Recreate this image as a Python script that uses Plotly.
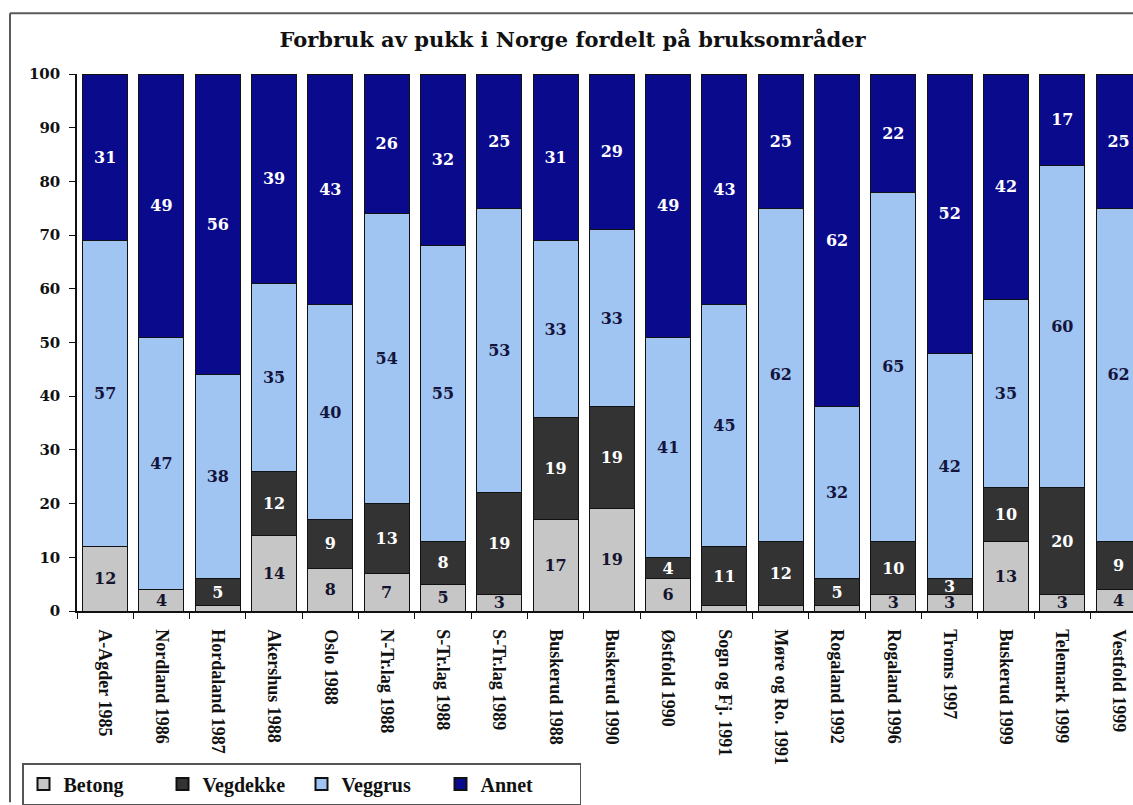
import plotly.graph_objects as go

# Regions / survey years
categories = [
    "A-Agder 1985", "Nordland 1986", "Hordaland 1987", "Akershus 1988",
    "Oslo 1988", "N-Tr.lag 1988", "S-Tr.lag 1988", "S-Tr.lag 1989",
    "Buskerud 1988", "Buskerud 1990", "Østfold 1990", "Sogn og Fj. 1991",
    "Møre og Ro. 1991", "Rogaland 1992", "Rogaland 1996", "Troms 1997",
    "Buskerud 1999", "Telemark 1999", "Vestfold 1999",
]

# Share of crushed stone use (%) per application
betong   = [12, 4, 1, 14, 8, 7, 5, 3, 17, 19, 6, 1, 1, 1, 3, 3, 13, 3, 4]
vegdekke = [0, 0, 5, 12, 9, 13, 8, 19, 19, 19, 4, 11, 12, 5, 10, 3, 10, 20, 9]
veggrus  = [57, 47, 38, 35, 40, 54, 55, 53, 33, 33, 41, 45, 62, 32, 65, 42, 35, 60, 62]
annet    = [31, 49, 56, 39, 43, 26, 32, 25, 31, 29, 49, 43, 25, 62, 22, 52, 42, 17, 25]

# Segments of 0 or 1 % carry no value label
def labels(values):
    return [str(v) if v > 1 else "" for v in values]

series = [
    ("Betong", betong, "#c6c6c6", "#14142e"),
    ("Vegdekke", vegdekke, "#333333", "white"),
    ("Veggrus", veggrus, "#a0c5f2", "#14143c"),
    ("Annet", annet, "#0a0a8c", "white"),
]

W, H = 1133, 805
L, T, B = 77, 74, 192          # plot area: x 77..1133, y 74..613
PW, PH = W - L, H - T - B

def px(x):
    return (x - L) / PW

def py(y):
    return (H - B - y) / PH

fig = go.Figure()
for name, vals, color, tcolor in series:
    fig.add_trace(go.Bar(
        name=name,
        x=categories,
        y=vals,
        text=labels(vals),
        textposition="inside",
        insidetextanchor="middle",
        textangle=0,
        textfont=dict(family="DejaVu Serif", size=16, color=tcolor, weight="bold"),
        marker=dict(color=color, line=dict(color="#111111", width=1)),
        hoverinfo="x+y+name",
    ))

# Chart frame (top and left edges)
frame = dict(color="#5a5a5a", width=2)
fig.add_shape(type="line", xref="paper", yref="paper",
              x0=px(10), x1=px(W), y0=py(13), y1=py(13), line=frame)
fig.add_shape(type="line", xref="paper", yref="paper",
              x0=px(10), x1=px(10), y0=py(13), y1=py(H), line=frame)

fig.update_layout(
    width=W, height=H,
    margin=dict(l=L, r=0, t=T, b=B, pad=0),
    barmode="stack",
    bargap=0.2,
    plot_bgcolor="white",
    paper_bgcolor="white",
    uniformtext=dict(minsize=16, mode="show"),
    title=dict(
        text="Forbruk av pukk i Norge fordelt på bruksområder",
        font=dict(family="DejaVu Serif", size=21, color="#111111", weight="bold"),
        x=572.5 / W, xref="container", xanchor="center",
        y=1 - 40 / H, yref="container", yanchor="middle",
    ),
    showlegend=True,
    legend=dict(
        orientation="h",
        x=px(22), xanchor="left",
        y=py(766), yanchor="top",
        bgcolor="white",
        bordercolor="#555555",
        borderwidth=1.5,
        font=dict(family="Liberation Serif", size=20, color="#111111", weight="bold"),
        entrywidth=94,
        entrywidthmode="pixels",
        itemsizing="constant",
        traceorder="normal",
    ),
    xaxis=dict(
        type="category",
        range=[-0.5, -0.5 + PW / 56.3],
        showline=True, linecolor="#111111", linewidth=1.5,
        ticks="outside", tickson="boundaries", ticklen=6, tickcolor="#111111",
        tickangle=90,
        ticklabelstandoff=13,
        tickfont=dict(family="Liberation Serif", size=18, color="#111111", weight="bold"),
        showgrid=False, zeroline=False,
    ),
    yaxis=dict(
        range=[0, 100],
        dtick=10,
        showline=True, linecolor="#111111", linewidth=1.5,
        ticks="outside", ticklen=6, tickcolor="#111111",
        ticklabelstandoff=6,
        tickfont=dict(family="DejaVu Serif", size=15, color="#111111", weight="bold"),
        showgrid=False, zeroline=False,
    ),
)

fig.write_html("out.html")
